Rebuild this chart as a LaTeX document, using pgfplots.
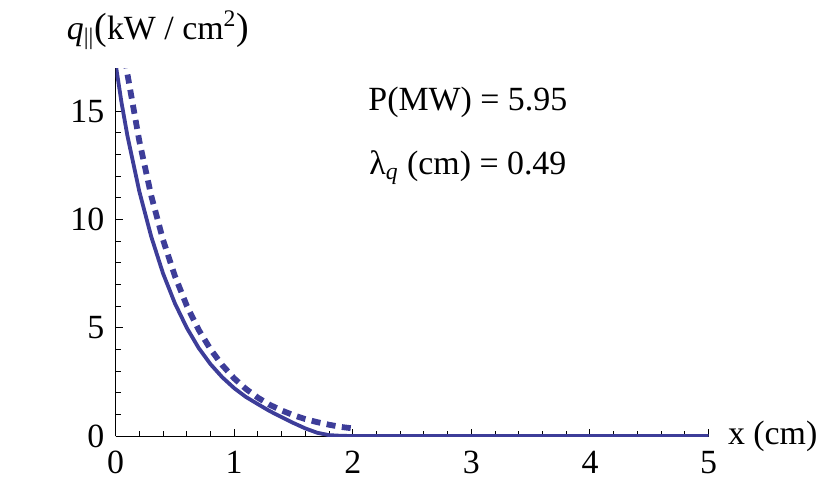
\documentclass[border=0pt]{standalone}
\usepackage{fontspec}
\setmainfont{Liberation Serif}
\usepackage{pgfplots}
\pgfplotsset{compat=1.18}
\definecolor{mblue}{rgb}{0.24,0.24,0.6}

\begin{document}
\fontsize{16.5}{20}\selectfont
\begin{tikzpicture}
\begin{axis}[
  scale only axis,
  width=296.5bp, height=184bp,
  xmin=0, xmax=5, ymin=0, ymax=17,
  axis x line*=bottom, axis y line*=left,
  axis line style={-, line width=0.5bp},
  xtick={0,1,2,3,4,5}, ytick={0,5,10,15},
  minor x tick num=4, minor y tick num=4,
  tick align=inside,
  major tick length=3.5bp, minor tick length=2.5bp,
  every tick/.style={black, line width=0.5bp},
  /pgf/number format/assume math mode=true,
  ticklabel style={font=\fontsize{17}{20}\selectfont},
  xticklabel style={yshift=-2bp},
  clip=true,
]
% dashed curve
\addplot[mblue, line width=2.9bp, dash pattern=on 4.5bp off 3.2bp] coordinates {
  (0.08,17.4)(0.1,16.71)(0.2,13.63)(0.3,11.11)(0.4,9.06)(0.5,7.39)
  (0.6,6.02)(0.7,4.91)(0.8,4.01)(0.9,3.27)(1.0,2.66)(1.1,2.17)
  (1.2,1.77)(1.3,1.44)(1.4,1.18)(1.5,0.96)(1.6,0.78)(1.7,0.64)
  (1.8,0.52)(1.9,0.42)(2.0,0.35)
};
% solid curve
\addplot[mblue, line width=1.9bp] coordinates {
  (0,17.2)(0.05,15.4)(0.1,13.86)(0.2,11.30)(0.3,9.22)(0.4,7.51)(0.5,6.13)
  (0.6,5.00)(0.7,4.07)(0.8,3.32)(0.9,2.71)(1.0,2.21)(1.1,1.80)
  (1.2,1.47)(1.3,1.15)(1.4,0.87)(1.5,0.60)(1.6,0.35)(1.7,0.15)
  (1.8,0.04)(1.9,0.01)(2.0,0.0)(3.0,0.0)(4.0,0.0)(5.0,0.0)
};
\node[font=\fontsize{17}{20}\selectfont] at (axis cs:2.97,15.4) {P(MW) = 5.95};
\node[font=\fontsize{17}{20}\selectfont] at (axis cs:2.97,12.4) {λ\textsubscript{\textit{q}} (cm) = 0.49};
\end{axis}
\node[anchor=base west, inner sep=0, font=\fontsize{17}{20}\selectfont] at (-24.5bp,198.5bp)
  {\textit{q}\textsubscript{||}{\fontsize{19}{20}\selectfont(}kW / cm\textsuperscript{2}{\fontsize{19}{20}\selectfont)}};
\node[anchor=west, inner sep=0, font=\fontsize{17}{20}\selectfont] at (306bp,0bp) {x (cm)};
\path (-57.8bp,-20.5bp) rectangle (357.7bp,218bp);
\end{tikzpicture}
\end{document}
